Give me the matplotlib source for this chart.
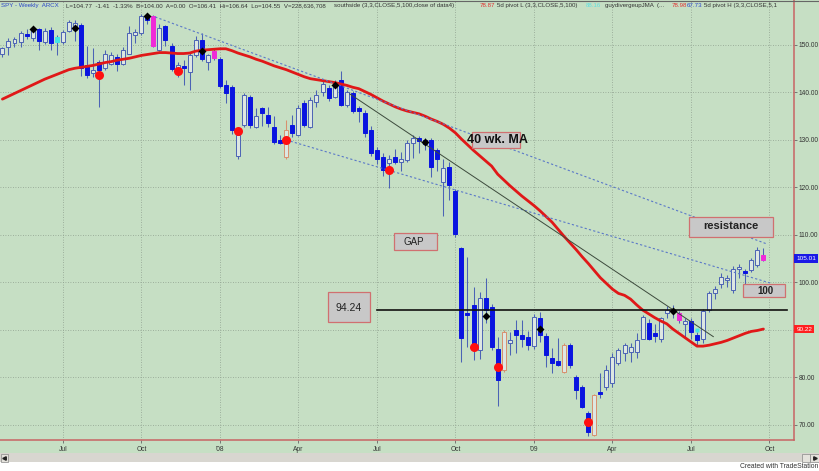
import matplotlib

matplotlib.use("Agg")
import matplotlib.pyplot as plt
import matplotlib.transforms as mtransforms
import numpy as np
import pandas as pd
from matplotlib.lines import Line2D
from matplotlib.patches import Rectangle

plt.rcParams["font.family"] = ["Liberation Sans", "DejaVu Sans"]

# ---- weekly SPY bars, Apr 27 2007 .. Sep 25 2009 ----
opens = [
    148.2, 149.6, 150.4, 150.7, 152.4, 151.4, 153.3, 150.7, 153.2, 151.7,
    150.7, 153.0, 153.2, 154.2, 145.8, 144.0, 146.5, 145.1, 146.1, 147.4,
    146.1, 148.2, 152.1, 152.5, 155.8, 156.1, 149.0, 153.9, 149.7, 145.2,
    145.6, 144.3, 147.9, 151.1, 146.5, 148.7, 147.0, 141.6, 141.1, 126.6,
    133.2, 139.1, 132.8, 136.7, 135.3, 132.8, 130.0, 126.5, 133.2, 131.1,
    137.8, 132.8, 138.1, 140.0, 140.9, 139.1, 142.6, 137.4, 139.8, 136.7,
    135.6, 132.1, 127.9, 126.5, 125.1, 126.5, 125.4, 125.8, 129.4, 130.4,
    130.0, 130.0, 127.9, 121.2, 124.4, 119.3, 107.2, 93.6, 95.3, 85.8,
    96.7, 94.9, 86.1, 81.6, 87.2, 90.1, 88.9, 88.6, 86.6, 92.5,
    88.7, 84.0, 83.5, 81.2, 86.8, 80.0, 78.1, 72.5, 67.9, 76.7,
    78.1, 78.8, 83.0, 85.1, 85.4, 85.4, 88.2, 91.5, 89.3, 88.0,
    93.5, 93.9, 93.6, 91.3, 91.9, 88.9, 88.2, 94.2, 97.7, 99.7,
    100.5, 98.4, 102.8, 102.5, 102.6, 103.7, 105.7,
]
highs = [
    149.6, 151.4, 151.6, 153.0, 153.3, 153.6, 153.5, 153.5, 153.8, 152.2,
    153.2, 155.3, 155.3, 154.6, 149.7, 149.4, 146.8, 148.9, 148.5, 148.1,
    149.6, 153.9, 153.4, 156.6, 156.8, 156.4, 154.5, 154.2, 150.4, 146.4,
    146.8, 148.6, 151.8, 152.6, 148.0, 149.2, 147.5, 142.6, 141.5, 131.6,
    139.8, 139.4, 136.8, 137.0, 137.0, 135.0, 131.1, 134.2, 135.3, 137.3,
    138.4, 139.1, 140.6, 142.6, 141.5, 142.6, 144.5, 140.6, 140.4, 137.2,
    136.3, 133.0, 128.6, 127.2, 126.8, 128.0, 127.5, 130.0, 131.1, 130.8,
    130.5, 130.4, 128.3, 126.1, 125.3, 119.6, 107.5, 105.4, 99.1, 98.0,
    100.9, 95.5, 88.6, 90.0, 89.5, 92.1, 92.1, 89.8, 93.4, 93.8,
    89.3, 86.3, 88.3, 87.2, 87.2, 80.5, 78.4, 72.9, 76.5, 80.9,
    82.6, 85.1, 86.3, 87.2, 87.2, 89.3, 93.1, 92.3, 91.2, 92.8,
    95.0, 95.3, 94.0, 92.6, 92.6, 89.5, 94.4, 98.2, 99.3, 101.9,
    101.6, 103.4, 103.9, 102.8, 105.2, 107.5, 107.3,
]
lows = [
    147.5, 147.9, 149.5, 149.6, 151.2, 150.9, 149.0, 150.2, 149.0, 147.9,
    150.2, 152.7, 150.9, 143.4, 143.0, 143.3, 137.0, 144.7, 145.8, 144.6,
    145.8, 148.0, 150.4, 152.2, 154.4, 149.5, 148.7, 149.7, 144.5, 143.3,
    141.6, 140.5, 147.5, 146.6, 144.7, 146.8, 141.0, 137.8, 131.3, 126.1,
    132.8, 132.5, 132.5, 132.9, 132.8, 129.2, 129.2, 126.1, 130.7, 130.9,
    132.8, 132.5, 137.0, 139.3, 138.3, 138.8, 137.2, 137.0, 135.6, 133.7,
    130.7, 126.6, 124.9, 122.5, 119.8, 124.9, 123.5, 125.4, 126.3, 127.3,
    127.8, 122.3, 123.5, 113.9, 117.4, 109.6, 83.3, 86.5, 83.7, 83.9,
    91.4, 85.8, 73.9, 81.2, 84.8, 85.1, 86.5, 85.7, 85.9, 87.5,
    82.2, 80.9, 82.4, 80.9, 81.9, 75.4, 73.5, 67.6, 67.6, 75.6,
    77.4, 78.1, 82.6, 83.5, 83.2, 84.1, 88.0, 87.9, 87.5, 87.5,
    92.5, 92.6, 91.4, 88.6, 88.0, 86.7, 87.2, 93.8, 96.5, 98.8,
    99.0, 97.7, 101.0, 99.2, 102.3, 103.3, 104.6,
]
closes = [
    149.3, 150.9, 151.3, 152.5, 151.9, 153.2, 150.9, 153.0, 150.4, 150.7,
    152.8, 154.9, 154.7, 145.1, 143.7, 144.7, 144.7, 148.2, 147.9, 146.0,
    148.9, 152.5, 152.8, 156.0, 155.3, 149.7, 153.6, 151.1, 144.9, 145.8,
    145.1, 147.9, 151.1, 147.0, 147.9, 147.3, 141.3, 139.8, 132.1, 131.1,
    139.5, 133.2, 135.0, 135.6, 133.5, 129.6, 129.3, 132.1, 131.4, 136.7,
    133.2, 138.4, 139.5, 141.7, 138.8, 141.9, 137.4, 140.2, 136.0, 136.0,
    131.4, 127.2, 126.1, 123.7, 126.1, 125.4, 126.1, 129.4, 130.4, 129.7,
    129.2, 124.4, 125.9, 124.0, 120.5, 110.2, 88.3, 93.2, 86.5, 96.7,
    94.2, 86.5, 79.5, 89.6, 87.8, 88.9, 88.0, 86.8, 92.8, 88.9,
    84.7, 83.0, 82.6, 86.8, 82.6, 77.4, 73.8, 68.6, 76.3, 76.5,
    81.6, 84.4, 85.8, 86.8, 86.5, 87.9, 92.8, 88.2, 88.7, 92.5,
    94.3, 94.3, 92.1, 91.8, 89.6, 87.9, 94.1, 97.8, 98.6, 101.1,
    100.9, 102.8, 103.3, 101.9, 104.7, 106.8, 104.8,
]
ma40 = [
    138.6, 139.2, 139.8, 140.4, 141.0, 141.6, 142.2, 142.8, 143.3, 143.8,
    144.3, 144.8, 145.1, 145.3, 145.5, 145.7, 146.0, 146.3, 146.5, 146.8,
    147.0, 147.2, 147.5, 147.8, 148.0, 148.2, 148.4, 148.4, 148.3, 148.2,
    148.2, 148.3, 148.7, 148.9, 149.0, 149.1, 149.2, 149.2, 148.8, 148.3,
    147.9, 147.5, 147.0, 146.6, 146.1, 145.6, 145.2, 144.8, 144.3, 143.8,
    143.3, 142.9, 142.7, 142.5, 142.3, 142.1, 141.8, 141.5, 141.1, 140.8,
    140.2, 139.6, 138.9, 138.2, 137.6, 137.0, 136.5, 136.1, 135.8, 135.5,
    135.0, 134.4, 133.9, 133.3, 132.5, 131.5, 130.2, 129.0, 127.8, 126.7,
    125.6, 124.5, 122.8, 121.6, 120.4, 119.3, 118.2, 117.2, 116.2, 115.1,
    113.9, 112.7, 111.2, 109.7, 108.3, 106.9, 105.4, 104.0, 102.5, 101.0,
    99.8, 98.6, 97.7, 97.3, 96.5, 95.3, 94.2, 93.4, 92.6, 91.9,
    91.3, 90.2, 89.3, 88.4, 87.5, 86.6, 86.6, 86.8, 87.1, 87.4,
    87.8, 88.3, 88.8, 89.3, 89.7, 89.9, 90.2,
]

# paint bars / study markers (bar index, value)
magenta_idx = [25, 35, 112, 126]
cyan_idx = [9]
salmon_idx = [47, 83, 93, 98]
pivot_high_idx = [5, 12, 24, 33, 55, 70, 80, 89, 111]
pivot_high_val = [153.3, 153.5, 156.1, 148.7, 141.6, 129.6, 92.9, 90.3, 94.1]
pivot_low_idx = [16, 29, 39, 47, 64, 78, 82, 97]
pivot_low_val = [143.7, 144.5, 131.9, 130.0, 123.7, 86.5, 82.3, 70.7]
diverge_idx = [115]
diverge_val = [90.1]

# hand drawn trendlines (bar index, price)
resist_line = ([25.3, 126.6], [155.9, 108.1])
support_line = ([47.0, 127.1], [130.0, 99.9])
down_line = ([57.5, 117.7], [139.7, 88.6])
gap_level = 94.24
gap_span = [62.0, 129.9]

tick_dates = ["2007-07-06", "2007-10-05", "2008-01-04", "2008-04-04", "2008-07-04",
              "2008-10-03", "2009-01-02", "2009-04-03", "2009-07-03", "2009-10-02"]
tick_labels = ["Jul", "Oct", "'08", "Apr", "Jul", "Oct", "'09", "Apr", "Jul", "Oct"]
price_ticks = [70, 80, 90, 100, 110, 120, 130, 140, 150]
hidden_price_labels = [90]  # covered by the MA value flag on the original

legend_parts = [
    ("SPY - Weekly  ARCX", "#2a46c8", 1),
    ("L=104.77  -1.41  -1.33%  B=104.00  A=0.00  O=106.41  Hi=106.64  Lo=104.55  V=228,636,708", "#333333", 66),
    ("southside (3,3,CLOSE,5,100,close of data4)", "#333333", 334),
    ("78.87", "#e03030", 480),
    ("5d pivot L (3,3,CLOSE,5,100)", "#333333", 497),
    ("88.16", "#5fe0e0", 586),
    ("guydivergeupJMA  (...", "#333333", 605),
    ("78.98", "#e03030", 672),
    ("67.73", "#2a46c8", 687),
    ("5d pivot H (3,3,CLOSE,5,1", "#333333", 704),
]

W, H = 820, 471
GREEN = "#c6dfc4"
WICK = "#4b63b5"
DOWN = "#0a14e0"
HOLLOW = "#dde7e2"
MAGENTA = "#f02ad8"
CYAN = "#45e6e6"
SALMON = "#d8906e"
AXRED = "#c86464"

weeks = pd.date_range("2007-04-27", periods=len(closes), freq="W-FRI")
tick_pos = [(pd.Timestamp(d) - weeks[0]).days / 7 for d in tick_dates]

fig = plt.figure(figsize=(W / 100, H / 100), dpi=100)
fig.patch.set_facecolor(GREEN)


def fig_box(x0, y0, x1, y1, **kw):
    r = Rectangle((x0 / W, 1 - y1 / H), (x1 - x0) / W, (y1 - y0) / H,
                  transform=fig.transFigure, **kw)
    fig.add_artist(r)
    return r


def fig_text(xp, yp, s, **kw):
    return fig.text(xp / W, 1 - yp / H, s, **kw)


ax = fig.add_axes([0, 1 - 440 / H, 794 / W, 440 / H])
ax.set_facecolor(GREEN)
ax.set_xlim(-0.4, 131.06)
ax.set_ylim(66.84, 159.47)

# grid
for yv in price_ticks:
    ax.axhline(yv, color="#8fa08f", lw=0.6, ls=(0, (1, 2)), zorder=1)
for xv in tick_pos:
    ax.axvline(xv, color="#8fa08f", lw=0.6, ls=(0, (1, 2)), zorder=1)

# candles
bw = 0.66
for i in range(len(closes)):
    o, h, l, c = opens[i], highs[i], lows[i], closes[i]
    wick = WICK
    if i in magenta_idx:
        face = edge = MAGENTA
    elif i in cyan_idx:
        face = edge = CYAN
    elif c >= o:
        face = HOLLOW
        edge = SALMON if i in salmon_idx else WICK
        if i in salmon_idx:
            wick = SALMON
    else:
        face = edge = DOWN
    ax.vlines(i, l, h, color=wick, lw=0.75, zorder=3)
    ax.add_patch(Rectangle((i - bw / 2, min(o, c)), bw, max(abs(c - o), 0.35),
                           facecolor=face, edgecolor=edge, lw=0.7, zorder=4))

# 40 week moving average
ax.plot(np.arange(len(ma40)), ma40, color="#e01818", lw=2.0, zorder=5,
        solid_capstyle="round")

# trendlines
ax.plot(*resist_line, color="#5a78c8", lw=0.8, ls=(0, (2, 2)), zorder=6)
ax.plot(*support_line, color="#5a78c8", lw=0.8, ls=(0, (2, 2)), zorder=6)
ax.plot(*down_line, color="#3c4a3c", lw=0.7, zorder=6)
ax.plot(gap_span, [gap_level, gap_level], color="#111111", lw=1.2, zorder=6)

# study markers
ax.plot(pivot_low_idx, pivot_low_val, "o", color="#ff1010", ms=6.5, zorder=7, mec="none")
ax.plot(pivot_high_idx, pivot_high_val, "D", color="black", ms=4.4, zorder=7, mec="none")
ax.plot(diverge_idx, diverge_val, "s", color=CYAN, ms=3.5, zorder=7, mec="none")

# axes styling
for side in ["left", "top"]:
    ax.spines[side].set_visible(False)
for side in ["right", "bottom"]:
    ax.spines[side].set_color(AXRED)
    ax.spines[side].set_linewidth(1.1)
ax.yaxis.tick_right()
ax.set_yticks(price_ticks)
ax.set_yticklabels(["" if v in hidden_price_labels else f"{v:.2f}" for v in price_ticks])
ax.set_xticks(tick_pos)
ax.set_xticklabels(tick_labels)
ax.tick_params(axis="y", direction="out", length=2.5, width=0.6, color="#666666",
               labelsize=4.8, labelcolor="#333333", pad=1)
ax.tick_params(axis="x", direction="out", length=2, width=0.6, color="#666666",
               labelsize=4.8, labelcolor="#333333", pad=2)

# last value flags on the price scale
flag = mtransforms.blended_transform_factory(ax.transAxes, ax.transData)
ax.text(1.003, closes[-1] + 0.21, "105.01", transform=flag, ha="left", va="center",
        fontsize=4.6, color="white", clip_on=False, zorder=8,
        bbox=dict(boxstyle="square,pad=0.3", fc="#1a1ae6", ec="none"))
ax.text(1.003, ma40[-1], "90.22", transform=flag, ha="left", va="center",
        fontsize=4.6, color="white", clip_on=False, zorder=8,
        bbox=dict(boxstyle="square,pad=0.3", fc="#ff2020", ec="none"))

# annotation boxes
box_kw = dict(facecolor="#c8c8c8", edgecolor="#d07070", lw=0.9, zorder=5)
fig_box(471.7, 131.7, 520, 147.7, **box_kw)
fig_text(497.5, 140, "40 wk. MA", ha="center", va="center", fontsize=9,
         fontweight="bold", color="#111111", zorder=6)
fig_box(394, 233.3, 436.7, 250, **box_kw)
fig_text(414, 242, "GAP", ha="center", va="center", fontsize=7, color="#222222", zorder=6)
fig_box(328.3, 292.3, 370, 321.7, **box_kw)
fig_text(349, 308, "94.24", ha="center", va="center", fontsize=7.5, color="#222222", zorder=6)
fig_box(689.3, 216.7, 773.3, 236.7, **box_kw)
fig_text(731, 226, "resistance", ha="center", va="center", fontsize=8,
         fontweight="bold", color="#222222", zorder=6)
fig_box(743.3, 284.3, 785, 296.7, **box_kw)
fig_text(765.5, 290.5, "100", ha="center", va="center", fontsize=7,
         fontweight="bold", color="#222222", zorder=6)

# status line
for txt, col, xp in legend_parts:
    fig_text(xp, 5.5, txt, ha="left", va="center", fontsize=4.45, color=col)
fig.add_artist(Line2D([0, 1], [1 - 0.5 / H, 1 - 0.5 / H], color="#666666", lw=0.8,
                      transform=fig.transFigure))

# scrollbar and footer
fig_box(0, 453, W, 462, facecolor="#d8d6d0", edgecolor="none")
fig_box(0, 462, W, H, facecolor="white", edgecolor="none")
fig_box(0.5, 453.5, 8.5, 461.5, facecolor="#e4e2dc", edgecolor="#888888", lw=0.5)
fig_box(802.5, 453.5, 810.5, 461.5, facecolor="#e4e2dc", edgecolor="#888888", lw=0.5)
fig_box(810.5, 453.5, 819.5, 461.5, facecolor="#e4e2dc", edgecolor="#888888", lw=0.5)
fig.add_artist(Line2D([4.5 / W], [1 - 457.5 / H], marker="<", ms=2.5, color="#222222",
                      transform=fig.transFigure))
fig.add_artist(Line2D([815 / W], [1 - 457.5 / H], marker=">", ms=2.5, color="#222222",
                      transform=fig.transFigure))
fig_text(818, 466.5, "Created with TradeStation", ha="right", va="center",
         fontsize=4.9, color="#333333")

fig.savefig("out.png", dpi=100, facecolor=fig.get_facecolor())
